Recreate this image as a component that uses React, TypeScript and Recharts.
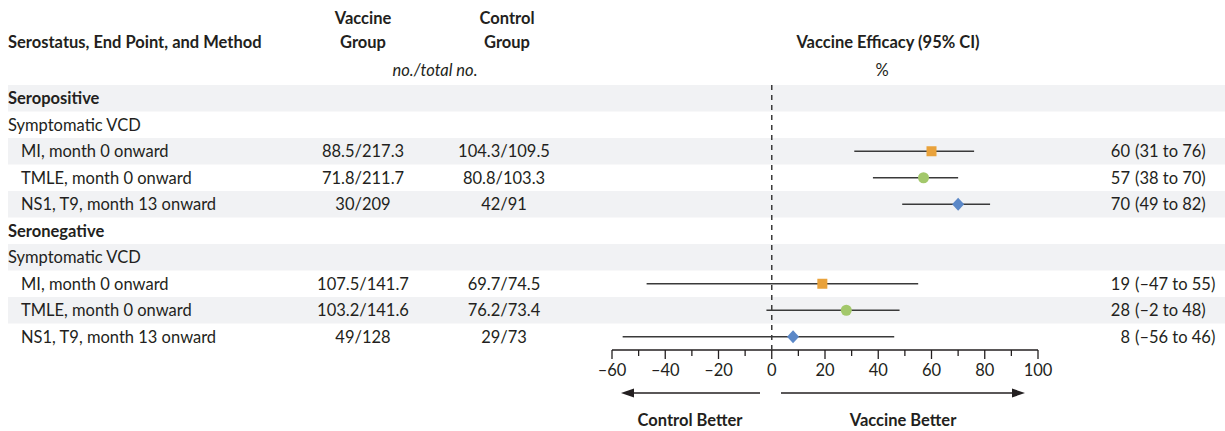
import React from 'react';
import { ScatterChart, Scatter, XAxis, YAxis, ReferenceLine, Customized } from 'recharts';

// ---------- data ----------
const rowLabels = [
  'Seropositive',
  'Symptomatic VCD',
  'MI, month 0 onward',
  'TMLE, month 0 onward',
  'NS1, T9, month 13 onward',
  'Seronegative',
  'Symptomatic VCD',
  'MI, month 0 onward',
  'TMLE, month 0 onward',
  'NS1, T9, month 13 onward',
];
const rowLevels = [0, 1, 2, 2, 2, 0, 1, 2, 2, 2];
const rowMethods = ['', '', 'MI', 'TMLE', 'NS1', '', '', 'MI', 'TMLE', 'NS1'];
const vaccineCounts = ['', '', '88.5/217.3', '71.8/211.7', '30/209', '', '', '107.5/141.7', '103.2/141.6', '49/128'];
const controlCounts = ['', '', '104.3/109.5', '80.8/103.3', '42/91', '', '', '69.7/74.5', '76.2/73.4', '29/73'];
const efficacy: (number | null)[] = [null, null, 60, 57, 70, null, null, 19, 28, 8];
const ciLow: (number | null)[] = [null, null, 31, 38, 49, null, null, -47, -2, -56];
const ciHigh: (number | null)[] = [null, null, 76, 70, 82, null, null, 55, 48, 46];
const xTicks = [-60, -50, -40, -30, -20, -10, 0, 10, 20, 30, 40, 50, 60, 70, 80, 90, 100];
const rowTicks = [0, 1, 2, 3, 4, 5, 6, 7, 8, 9];

// ---------- style ----------
const FONT = "Lato, 'Open Sans', sans-serif";
const FS = 16.5;
const TXT = '#231F20';
const BAND = '#F1F2F4';
const ROW_H = 26.5;
const COLORS: Record<string, string> = { MI: '#E9A23B', TMLE: '#A3C86B', NS1: '#5B88C8' };
const fmt = (v: number) => (v < 0 ? '\u2013' + Math.abs(v) : String(v));

const pointsFor = (m: string) =>
  rowMethods
    .map((mm, i) => (mm === m && efficacy[i] !== null ? { x: efficacy[i] as number, y: i } : null))
    .filter(Boolean) as { x: number; y: number }[];

const ciRows = rowMethods.map((m, i) => i).filter((i) => ciLow[i] !== null);

const RowTick = (props: any) => {
  const { y, payload } = props;
  const i = payload.value as number;
  const lvl = rowLevels[i];
  const est = efficacy[i];
  return (
    <g>
      {i % 2 === 0 && <rect x={8} y={y - ROW_H / 2} width={1217} height={ROW_H} fill={BAND} />}
      <text x={lvl === 2 ? 21 : 8} y={y} dy="0.35em" fontFamily={FONT} fontSize={FS}
        fontWeight={lvl === 0 ? 700 : 400} fill={TXT}>{rowLabels[i]}</text>
      {vaccineCounts[i] && (
        <text x={363} y={y} dy="0.35em" textAnchor="middle" fontFamily={FONT} fontSize={FS} fill={TXT}>{vaccineCounts[i]}</text>
      )}
      {controlCounts[i] && (
        <text x={504} y={y} dy="0.35em" textAnchor="middle" fontFamily={FONT} fontSize={FS} fill={TXT}>{controlCounts[i]}</text>
      )}
      {est !== null && (
        <text x={1130} y={y} dy="0.35em" textAnchor="end" fontFamily={FONT} fontSize={FS} fill={TXT}>{fmt(est)}</text>
      )}
      {est !== null && (
        <text x={1135} y={y} dy="0.35em" textAnchor="start" fontFamily={FONT} fontSize={FS} fill={TXT}>
          {`(${fmt(ciLow[i] as number)} to ${fmt(ciHigh[i] as number)})`}
        </text>
      )}
    </g>
  );
};

const AxisTick = (props: any) => {
  const { x, y, payload } = props;
  const v = payload.value as number;
  const major = v % 20 === 0;
  return (
    <g>
      <line x1={x} x2={x} y1={y - 8} y2={y - 8 + (major ? 9 : 6)} stroke="#231F20" strokeWidth={1.3} />
      {major && (
        <text x={x} y={y + 12} dy="0.35em" textAnchor="middle" fontFamily={FONT} fontSize={FS} fill={TXT}>{fmt(v)}</text>
      )}
    </g>
  );
};

const Square = (p: any) => <rect x={p.cx - 5} y={p.cy - 5} width={10} height={10} fill={COLORS.MI} />;
const Circle = (p: any) => <circle cx={p.cx} cy={p.cy} r={5.5} fill={COLORS.TMLE} />;
const Diamond = (p: any) => (
  <polygon points={`${p.cx},${p.cy - 6.5} ${p.cx + 6},${p.cy} ${p.cx},${p.cy + 6.5} ${p.cx - 6},${p.cy}`} fill={COLORS.NS1} />
);
const NoShape = () => <g />;

const Headers = () => (
  <g fontFamily={FONT} fill={TXT}>
    <text x={8} y={42} dy="0.35em" fontSize={FS} fontWeight={700}>Serostatus, End Point, and Method</text>
    <text x={363} y={18} dy="0.35em" fontSize={FS} fontWeight={700} textAnchor="middle">Vaccine</text>
    <text x={363} y={42} dy="0.35em" fontSize={FS} fontWeight={700} textAnchor="middle">Group</text>
    <text x={507} y={18} dy="0.35em" fontSize={FS} fontWeight={700} textAnchor="middle">Control</text>
    <text x={507} y={42} dy="0.35em" fontSize={FS} fontWeight={700} textAnchor="middle">Group</text>
    <text x={435} y={70} dy="0.35em" fontSize={FS} fontStyle="italic" textAnchor="middle">no./total no.</text>
    <text x={888} y={42} dy="0.35em" fontSize={FS} fontWeight={700} textAnchor="middle">Vaccine Efficacy (95% CI)</text>
    <text x={882} y={70} dy="0.35em" fontSize={FS} textAnchor="middle">%</text>
    <line x1={760} x2={632} y1={393} y2={393} stroke={TXT} strokeWidth={1.5} />
    <polygon points="621,393 634,388.5 634,397.5" fill={TXT} />
    <line x1={781} x2={1013} y1={393} y2={393} stroke={TXT} strokeWidth={1.5} />
    <polygon points="1025,393 1012,388.5 1012,397.5" fill={TXT} />
    <text x={690} y={420} dy="0.35em" fontSize={FS} fontWeight={700} textAnchor="middle">Control Better</text>
    <text x={903} y={420} dy="0.35em" fontSize={FS} fontWeight={700} textAnchor="middle">Vaccine Better</text>
  </g>
);

export default function App() {
  const extra: any = { zIndex: 3000 };
  const low: any = { zIndex: -200 };
  return (
    <div style={{ position: 'absolute', left: 0, top: 0, background: '#fff' }}>
      <ScatterChart width={1225} height={431} margin={{ top: 85, right: 187, bottom: 51, left: 602 }}>
        <YAxis type="number" dataKey="y" domain={[-0.5, 9.5]} reversed ticks={rowTicks} interval={0}
          width={10} axisLine={false} tickLine={false} tick={<RowTick />} {...low} />
        <XAxis type="number" dataKey="x" domain={[-60, 100]} ticks={xTicks} interval={0} height={30}
          tickLine={false} axisLine={{ stroke: '#231F20', strokeWidth: 1.3 }} tick={<AxisTick />} />
        <Customized component={<Headers />} />
        <ReferenceLine x={0} stroke="#3a3a3a" strokeWidth={1.5} strokeDasharray="5 5" {...extra} />
        {ciRows.map((i) => (
          <Scatter key={'ci' + i} data={[{ x: ciLow[i] as number, y: i }, { x: ciHigh[i] as number, y: i }]}
            line={{ stroke: '#3a3a3a', strokeWidth: 1.5 }} shape={<NoShape />} isAnimationActive={false} {...extra} />
        ))}
        <Scatter data={pointsFor('MI')} shape={<Square />} isAnimationActive={false} {...extra} />
        <Scatter data={pointsFor('TMLE')} shape={<Circle />} isAnimationActive={false} {...extra} />
        <Scatter data={pointsFor('NS1')} shape={<Diamond />} isAnimationActive={false} {...extra} />
      </ScatterChart>
    </div>
  );
}
